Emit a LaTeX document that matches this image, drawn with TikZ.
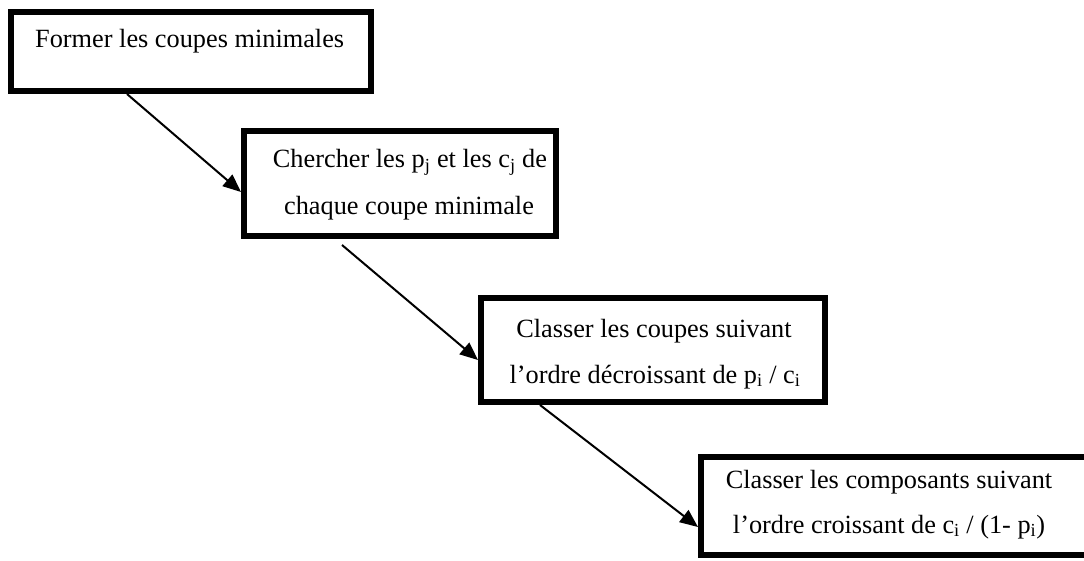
\documentclass[tikz,border=0pt]{standalone}
\usepackage{fontspec}
\setmainfont{Liberation Serif}
\usetikzlibrary{arrows.meta,calc}
\begin{document}
\begin{tikzpicture}[x=1pt,y=-1pt,
  box/.style={draw=black,line width=6pt,inner sep=0pt,anchor=north west},
  txt/.style={inner sep=0pt,anchor=base,font=\fontsize{26.3}{30}\selectfont},
  arr/.style={draw=black,line width=2pt,-{Triangle[length=18pt,width=15pt]}}]
\useasboundingbox (0,0) rectangle (1084,561);
\clip (0,0) rectangle (1084,561);
\fill[white] (0,0) rectangle (1084,561);
% boxes
\node[box,minimum width=360pt,minimum height=79pt] (b1) at (8,9) {};
\node[box,minimum width=312pt,minimum height=105pt] (b2) at (241,128) {};
\node[box,minimum width=344pt,minimum height=104pt] (b3) at (478,295) {};
\node[box,minimum width=386pt,minimum height=98pt] (b4) at (698,454) {};
% texts
\node[txt,anchor=base west] (t1) at (35,48) {Former les coupes minimales};
\node[txt] (t2a) at (410,168) {Chercher les p\textsubscript{j} et les c\textsubscript{j} de};
\node[txt] (t2b) at (409,215) {chaque coupe minimale};
\node[txt] (t3a) at (654,337) {Classer les coupes suivant};
\node[txt] (t3b) at (655,383) {l’ordre décroissant de p\textsubscript{i} / c\textsubscript{i}};
\node[txt] (t4a) at (889,488) {Classer les composants suivant};
\node[txt] (t4b) at (889,533) {l’ordre croissant de c\textsubscript{i} / (1- p\textsubscript{i})};
% connectors
\draw[arr] ($(b1.south west)+(119,0)$) -- ($(b2.north west)+(0,64)$);
\draw[arr] ($(b2.south west)+(101,6)$) -- ($(b3.north west)+(0,65)$);
\draw[arr] ($(b3.south west)+(62,0)$) -- ($(b4.north west)+(0,73)$);
\end{tikzpicture}
\end{document}
